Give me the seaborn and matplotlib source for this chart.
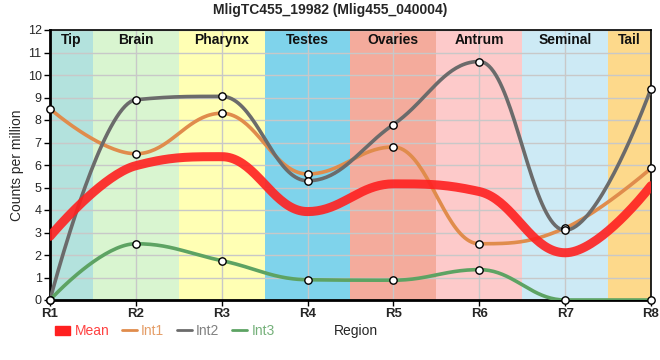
import numpy as np
import pandas as pd
import matplotlib
matplotlib.use("Agg")
import matplotlib.pyplot as plt
import seaborn as sns
from matplotlib.patches import Patch
from matplotlib.lines import Line2D

# ---- data ----
regions = ["R1", "R2", "R3", "R4", "R5", "R6", "R7", "R8"]
int1 = [8.5, 6.5, 8.3, 5.6, 6.8, 2.5, 3.2, 5.85]
int2 = [0.0, 8.9, 9.05, 5.3, 7.8, 10.6, 3.1, 9.4]
int3 = [0.0, 2.5, 1.75, 0.9, 0.88, 1.35, 0.0, 0.0]
mean = [2.83, 5.97, 6.37, 3.93, 5.16, 4.82, 2.1, 5.08]
band_names = ["Tip", "Brain", "Pharynx", "Testes", "Ovaries", "Antrum", "Seminal", "Tail"]
band_edges = [0, 0.5, 1.5, 2.5, 3.5, 4.5, 5.5, 6.5, 7]
band_colors = ["#b3e2dd", "#d9f5d0", "#ffffb4", "#7fd3eb", "#f4ab9c", "#fdcaca", "#cdeaf5", "#fdd98b"]
title = "MligTC455_19982 (Mlig455_040004)"

series_colors = {"Mean": "#ff2020", "Int1": "#e08c4c", "Int2": "#6b6b6b", "Int3": "#5da363"}


def spline_curve(xs, ys, n=40, smoothing=1.5):
    """Spline rendering (bezier control points at 0.4 of each interval, flat at extremes)."""
    xs = np.asarray(xs, float)
    ys = np.asarray(ys, float)
    k = len(xs)
    denom = smoothing + 1
    lc = [(xs[i], ys[i]) for i in range(k)]
    rc = [(xs[i], ys[i]) for i in range(k)]
    for i in range(1, k - 1):
        px, py = xs[i], ys[i]
        lx, ly = xs[i - 1], ys[i - 1]
        nx, ny = xs[i + 1], ys[i + 1]
        lcx = (smoothing * px + lx) / denom
        lcy = (smoothing * py + ly) / denom
        rcx = (smoothing * px + nx) / denom
        rcy = (smoothing * py + ny) / denom
        corr = 0.0
        if rcx != lcx:
            corr = (rcy - lcy) * (rcx - px) / (rcx - lcx) + py - rcy
        lcy += corr
        rcy += corr
        if lcy > ly and lcy > py:
            lcy = max(ly, py)
            rcy = 2 * py - lcy
        elif lcy < ly and lcy < py:
            lcy = min(ly, py)
            rcy = 2 * py - lcy
        if rcy > ny and rcy > py:
            rcy = max(ny, py)
            lcy = 2 * py - rcy
        elif rcy < ny and rcy < py:
            rcy = min(ny, py)
            lcy = 2 * py - rcy
        lc[i] = (lcx, lcy)
        rc[i] = (rcx, rcy)
    ox, oy = [], []
    for i in range(k - 1):
        u = np.linspace(0, 1, n, endpoint=(i == k - 2))
        p0 = (xs[i], ys[i])
        p1 = rc[i]
        p2 = lc[i + 1]
        p3 = (xs[i + 1], ys[i + 1])
        b0 = (1 - u) ** 3
        b1 = 3 * (1 - u) ** 2 * u
        b2 = 3 * (1 - u) * u ** 2
        b3 = u ** 3
        ox.append(b0 * p0[0] + b1 * p1[0] + b2 * p2[0] + b3 * p3[0])
        oy.append(b0 * p0[1] + b1 * p1[1] + b2 * p2[1] + b3 * p3[1])
    return np.concatenate(ox), np.concatenate(oy)


sns.set_theme(style="white")
plt.rcParams["font.family"] = ["Liberation Sans", "DejaVu Sans"]

fig = plt.figure(figsize=(6.6, 3.6), dpi=100)
ax = fig.add_axes([50 / 660, 1 - 300 / 360, 601 / 660, 270 / 360])

xpos = np.arange(len(regions))
for i, name in enumerate(band_names):
    ax.axvspan(band_edges[i], band_edges[i + 1], color=band_colors[i], lw=0, zorder=0)
    ax.text((band_edges[i] + band_edges[i + 1]) / 2, 11.55, name, ha="center", va="center",
            fontsize=10, fontweight="bold", color="#111111", zorder=5)

ax.set_axisbelow(True)
ax.grid(True, color="#c8c8c8", lw=1, zorder=1)

rows = []
for name, vals in [("Int1", int1), ("Int2", int2), ("Int3", int3), ("Mean", mean)]:
    cx, cy = spline_curve(xpos, vals)
    rows.append(pd.DataFrame({"x": cx, "y": cy, "series": name}))
curves = pd.concat(rows, ignore_index=True)

for name in ["Int1", "Int2", "Int3"]:
    sns.lineplot(data=curves[curves.series == name], x="x", y="y", ax=ax,
                 color=series_colors[name], lw=2.6, sort=False, estimator=None, zorder=3,
                 legend=False)
sns.lineplot(data=curves[curves.series == "Mean"], x="x", y="y", ax=ax,
             color=series_colors["Mean"], lw=6.5, alpha=0.9, sort=False, estimator=None,
             zorder=4, legend=False)

pts = pd.DataFrame({"x": np.tile(xpos, 3), "y": int1 + int2 + int3})
sns.scatterplot(data=pts, x="x", y="y", ax=ax, s=28, facecolor="white", edgecolor="black",
                linewidth=1.0, zorder=6, clip_on=False, legend=False)

ax.set_xlim(0, 7)
ax.set_ylim(0, 12)
ax.set_xticks(xpos)
ax.set_xticklabels(regions, fontsize=9.5, fontweight="bold")
ax.set_yticks(range(0, 13))
ax.set_yticklabels([str(v) for v in range(0, 13)], fontsize=9)
ax.tick_params(axis="both", which="both", length=4, width=1, color="black", direction="out",
               pad=2, left=True, bottom=True)
ax.set_xlabel("")
ax.set_ylabel("Counts per million", fontsize=10, labelpad=9)
ax.yaxis.set_label_coords(-26 / 601, 0.5)
for side in ["left", "bottom"]:
    ax.spines[side].set_linewidth(2)
    ax.spines[side].set_color("black")
for side in ["top", "right"]:
    ax.spines[side].set_linewidth(1.2)
    ax.spines[side].set_color("black")
    ax.spines[side].set_visible(True)

fig.text(0.5, 1 - 10 / 360, title, ha="center", va="center", fontsize=10, fontweight="bold")
fig.text(334 / 660, 1 - 331 / 360, "Region", ha="left", va="center", fontsize=10)

handles = [Patch(color=series_colors["Mean"]),
           Line2D([], [], color=series_colors["Int1"], lw=2),
           Line2D([], [], color=series_colors["Int2"], lw=2),
           Line2D([], [], color=series_colors["Int3"], lw=2)]
labels = ["Mean", "Int1", "Int2", "Int3"]
leg = fig.legend(handles, labels, loc="center left", bbox_to_anchor=(55 / 660, 1 - 331 / 360),
                 ncol=4, frameon=False, fontsize=10, handlelength=1.1, handleheight=0.6,
                 handletextpad=0.3, columnspacing=0.9, borderaxespad=0, borderpad=0)
for txt, name in zip(leg.get_texts(), labels):
    txt.set_color(series_colors[name])
    txt.set_alpha(0.85)

fig.savefig("out.png", dpi=100)
